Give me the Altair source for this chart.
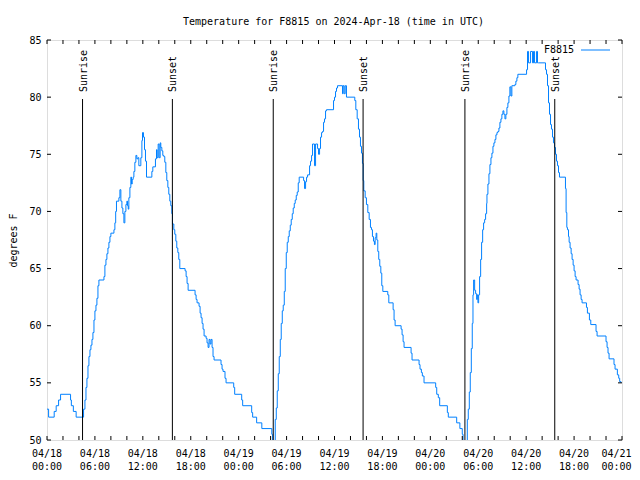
import altair as alt
import pandas as pd

# ---------------- data ----------------
title_text = "Temperature for F8815 on 2024-Apr-18 (time in UTC)"
series_name = "F8815"
y_title = "degrees F"

# hours since 2024-04-18 00:00 UTC
hours = [
    0.00, 0.20, 0.90, 1.15, 1.45, 1.70, 2.95, 3.05, 3.30, 3.65,
    4.58, 4.75, 4.88, 5.00, 5.13, 5.25, 5.38, 5.50, 5.63, 5.75, 5.88, 6.00, 6.13, 6.25, 6.38, 6.50,
    7.13, 7.25, 7.38, 7.50, 7.63, 7.75, 7.88, 8.00, 8.38, 8.50, 8.60, 8.70,
    9.00, 9.13, 9.25, 9.38, 9.50, 9.63, 9.75, 9.88, 10.00, 10.08, 10.17, 10.25, 10.38, 10.50,
    10.58, 10.67, 10.79, 10.88, 11.00, 11.13, 11.25, 11.38, 11.50, 11.75, 11.88, 11.96,
    12.08, 12.21, 12.33, 12.46, 13.13, 13.25, 13.58, 13.71, 13.79, 13.92, 14.04, 14.17,
    14.25, 14.38, 14.50, 14.63, 14.75, 14.88, 15.00, 15.13, 15.25, 15.38, 15.50, 15.63, 15.71,
    15.88, 16.00, 16.13, 16.25, 16.38, 16.50, 16.63, 17.29, 17.42, 17.54, 17.67,
    18.54, 18.67, 18.79, 19.04, 19.17, 19.29, 19.42, 19.54, 19.67, 19.92, 20.04, 20.17,
    20.29, 20.42, 20.54, 20.67, 20.79, 20.92, 21.79, 21.92, 22.04, 22.29, 22.42,
    23.38, 23.50, 24.38, 24.50, 25.63, 25.75, 26.25, 26.90, 28.15, 28.25, 28.40,
    28.58, 28.71, 28.83, 28.96, 29.08, 29.21, 29.33, 29.46, 29.58, 29.71, 29.83, 29.96,
    30.08, 30.21, 30.33, 30.46, 30.58, 30.71, 30.83, 30.96, 31.08, 31.21, 31.33, 31.46, 31.58,
    32.13, 32.25, 32.38, 32.50, 32.63, 32.88, 33.00, 33.13, 33.25, 33.50, 33.63, 33.88,
    34.00, 34.13, 34.25, 34.38, 34.50, 34.63, 34.75, 34.88, 35.00, 35.88, 36.00, 36.13,
    36.25, 36.38, 37.00, 37.08, 37.21, 37.34, 37.50, 38.54, 38.67, 38.84, 39.00, 39.13,
    39.25, 39.38, 39.50, 39.59, 39.67, 39.84, 40.00, 40.17, 40.34, 40.50, 40.63, 40.75,
    40.88, 41.00, 41.09, 41.21, 41.30, 41.42, 41.54, 41.67, 41.80, 41.92, 42.05, 42.67,
    42.80, 43.34, 43.46, 43.59, 44.34, 44.46, 44.59, 44.71, 45.59, 45.71, 46.59, 46.71,
    46.88, 47.00, 47.21, 48.67, 48.80, 49.00, 49.17, 50.13, 50.25, 51.30, 51.70, 52.00,
    52.10, 52.30, 52.63, 52.75, 52.88, 53.00, 53.13, 53.25, 53.34, 53.42, 53.55, 53.67,
    53.80, 53.88, 53.96, 54.05, 54.17, 54.30, 54.42, 54.55, 54.67, 54.80, 54.92, 55.05,
    55.09, 55.21, 55.34, 55.46, 55.59, 55.71, 55.84, 55.96, 56.09, 56.21, 56.34, 56.46,
    56.59, 56.71, 56.84, 56.96, 57.09, 57.21, 57.34, 57.46, 57.59, 57.71, 57.84, 57.96,
    58.09, 58.21, 58.59, 58.71, 58.84, 58.96, 60.05, 60.17, 60.30, 60.55, 60.80, 60.92,
    61.05, 61.30, 61.42, 61.55, 62.42, 62.55, 62.67, 62.80, 62.92,
    63.05, 63.17, 63.30, 63.42, 63.55, 63.67, 63.80, 63.92, 64.05, 64.17, 64.92, 65.00,
    65.09, 65.17, 65.30, 65.38, 65.50, 65.63, 65.75, 65.88, 66.00, 66.13, 66.25, 66.50,
    66.63, 66.75, 66.88, 67.00, 67.55, 67.67, 67.92, 68.09, 68.75, 68.88, 70.00, 70.13,
    70.25, 70.38, 71.00, 71.13, 71.42, 71.59, 71.71, 71.88,
]
temps = [
    52.7, 52.0, 52.5, 53.0, 53.5, 54.0, 53.5, 53.0, 52.5, 52.0,
    52.7, 53.5, 54.6, 55.4, 56.5, 57.3, 57.9, 58.3, 58.8, 59.4, 60.5, 61.3, 61.8, 62.4, 63.5, 64.0,
    64.3, 65.3, 65.8, 66.3, 66.8, 67.3, 67.8, 68.1, 68.4, 69.0, 70.0, 70.9,
    71.2, 71.9, 70.9, 70.3, 69.8, 69.0, 70.0, 70.6, 70.9, 70.5, 70.2, 71.2, 72.1, 73.0,
    72.4, 72.8, 73.0, 73.5, 74.3, 74.9, 74.6, 74.7, 74.0, 74.7, 76.2, 76.9,
    76.5, 75.4, 74.4, 73.0, 73.5, 73.9, 74.6, 75.4, 74.7, 75.9, 74.7, 76.0,
    75.6, 75.3, 74.9, 74.8, 74.3, 73.4, 72.7, 72.1, 71.5, 70.9, 70.5, 69.8, 68.9,
    68.4, 68.0, 67.4, 66.8, 66.4, 65.8, 65.0, 64.8, 64.3, 63.7, 63.1,
    62.7, 62.3, 62.0, 61.7, 61.1, 60.7, 60.2, 59.7, 59.1, 58.9, 58.5, 58.1,
    58.8, 58.4, 58.8, 58.1, 57.3, 57.0, 56.6, 56.2, 56.0, 55.4, 55.0,
    54.6, 54.0, 53.5, 53.0, 52.4, 52.0, 51.5, 51.0, 50.5, 49.5, 49.0,
    51.8, 52.8, 54.3, 55.8, 57.3, 58.8, 60.2, 61.3, 61.8, 63.0, 65.0, 66.4,
    67.3, 67.8, 68.3, 68.8, 69.3, 69.8, 70.3, 70.7, 71.0, 71.4, 71.7, 72.5, 73.0,
    72.7, 72.0, 72.6, 73.0, 73.2, 74.0, 74.4, 74.9, 75.9, 74.0, 75.9, 75.5,
    75.0, 75.5, 76.5, 76.9, 77.0, 77.8, 78.1, 78.8, 78.9, 79.7, 80.0, 80.5,
    80.8, 81.0, 80.3, 81.0, 80.3, 81.0, 80.0, 79.7, 78.9, 78.1, 77.2, 76.5,
    75.7, 75.1, 74.2, 72.7, 71.8, 71.2, 70.6, 69.9, 69.3, 68.6, 68.4, 67.8,
    67.4, 67.1, 67.7, 68.1, 67.5, 66.5, 65.8, 65.2, 64.6, 63.5, 63.0, 62.7,
    62.0, 61.4, 60.5, 60.0, 59.7, 59.2, 58.6, 58.1, 57.6, 57.0, 56.6, 56.2,
    55.9, 55.6, 55.0, 54.6, 54.0, 53.7, 53.0, 52.4, 52.0, 51.5, 51.0, 50.5,
    49.5, 49.0, 51.8, 52.7, 54.2, 55.9, 58.0, 60.2, 62.7, 64.0, 63.1, 62.8,
    62.3, 62.7, 62.0, 62.7, 64.3, 65.8, 67.3, 68.4, 69.0, 69.3, 69.8, 70.7,
    71.5, 72.4, 73.3, 74.1, 74.7, 75.1, 75.7, 76.0, 76.3, 76.7, 76.9, 77.0,
    77.3, 77.8, 78.1, 78.5, 78.8, 78.5, 78.1, 78.5, 79.1, 79.5, 80.1, 80.9,
    80.1, 81.0, 81.1, 81.4, 81.7, 82.0, 82.4, 84.0, 83.0, 84.0, 83.0, 84.0,
    83.0, 84.0, 83.0, 83.0, 82.4, 82.0, 81.0, 79.5, 78.5,
    77.6, 77.2, 76.5, 76.0, 75.6, 75.0, 74.4, 74.0, 73.4, 73.0, 72.0, 69.9,
    68.6, 68.4, 67.8, 67.3, 66.8, 66.3, 65.8, 65.3, 64.8, 64.3, 64.0, 63.6,
    63.2, 62.7, 62.3, 62.0, 61.6, 61.1, 60.5, 60.1, 59.5, 59.1, 58.6, 58.1,
    57.6, 57.1, 56.6, 56.2, 55.7, 55.4, 55.1, 55.0,
]

sunrise_hours = [4.45, 28.33, 52.33]
sunset_hours = [15.70, 39.58, 63.58]

y_ticks = [50, 55, 60, 65, 70, 75, 80, 85]
x_label_hours = [0, 6, 12, 18, 24, 30, 36, 42, 48, 54, 60, 66, 72]
x_label_dates = ["04/18", "04/18", "04/18", "04/18", "04/19", "04/19", "04/19",
                 "04/19", "04/20", "04/20", "04/20", "04/20", "04/21"]
x_label_times = ["00:00", "06:00", "12:00", "18:00", "00:00", "06:00", "12:00",
                 "18:00", "00:00", "06:00", "12:00", "18:00", "00:00"]
x_tick_hours = [0, 2, 4, 6, 8, 10, 12, 14, 16, 18, 20, 22, 24, 26, 28, 30, 32, 34, 36,
                38, 40, 42, 44, 46, 48, 50, 52, 54, 56, 58, 60, 62, 64, 66, 68, 70, 72]

# ---------------- chart ----------------
W, H = 575, 400
FONT = "DejaVu Sans Mono"
BLUE = "#0080ff"
TICK = 4
ROW1, ROW2 = 416.5, 429.5

df = pd.DataFrame({"h": hours, "T": temps})
sun_df = pd.DataFrame({
    "h": sunrise_hours + sunset_hours,
    "label": ["Sunrise"] * len(sunrise_hours) + ["Sunset"] * len(sunset_hours),
})
xt_df = pd.DataFrame({"h": x_tick_hours})
yt_df = pd.DataFrame({"T": y_ticks})
leg_df = pd.DataFrame({"name": [series_name]})
title_df = pd.DataFrame({"t": [title_text]})
lab_df = pd.DataFrame({"h": x_label_hours, "d": x_label_dates, "t": x_label_times})
lab_main = lab_df.iloc[:-1]
lab_last = lab_df.iloc[-1:]

x_scale = alt.Scale(domain=[0, 72], nice=False, zero=False)
y_scale = alt.Scale(domain=[50, 85], nice=False, zero=False)

line = alt.Chart(df).mark_line(
    color=BLUE, strokeWidth=1, interpolate="step-after", clip=True
).encode(
    x=alt.X("h:Q", scale=x_scale, axis=None),
    y=alt.Y("T:Q", scale=y_scale, axis=alt.Axis(
        values=y_ticks, title=y_title, ticks=False, domain=False, grid=False,
        labelFont=FONT, labelFontSize=10, labelColor="black", labelPadding=6,
        titleFont=FONT, titleFontSize=10, titleFontWeight="normal",
        titleColor="black", titleX=-34, titleY=H / 2, titleAngle=270,
        titleAlign="center", titleBaseline="middle", labelOverlap=False)),
)


def xlabels(data, field, ypos, dx):
    return alt.Chart(data).mark_text(
        align="center", baseline="alphabetic", font=FONT, fontSize=10,
        color="black", dx=dx
    ).encode(x=alt.X("h:Q", scale=x_scale), y=alt.value(ypos), text=f"{field}:N")


lab_layers = [
    xlabels(lab_main, "d", ROW1, 0), xlabels(lab_main, "t", ROW2, 0),
    xlabels(lab_last, "d", ROW1, -5.5), xlabels(lab_last, "t", ROW2, -5.5),
]

sun_rules = alt.Chart(sun_df).mark_rule(color="black", strokeWidth=1).encode(
    x=alt.X("h:Q", scale=x_scale), y=alt.value(59), y2=alt.value(H))
sun_text = alt.Chart(sun_df).mark_text(
    angle=270, align="left", baseline="middle", font=FONT, fontSize=10,
    color="black", dy=1
).encode(x=alt.X("h:Q", scale=x_scale), y=alt.value(52), text="label:N")

tick_bottom = alt.Chart(xt_df).mark_rule(color="black", strokeWidth=1).encode(
    x=alt.X("h:Q", scale=x_scale), y=alt.value(H - TICK), y2=alt.value(H))
tick_top = alt.Chart(xt_df).mark_rule(color="black", strokeWidth=1).encode(
    x=alt.X("h:Q", scale=x_scale), y=alt.value(0), y2=alt.value(TICK))
tick_left = alt.Chart(yt_df).mark_rule(color="black", strokeWidth=1).encode(
    y=alt.Y("T:Q", scale=y_scale), x=alt.value(0), x2=alt.value(TICK))
tick_right = alt.Chart(yt_df).mark_rule(color="black", strokeWidth=1).encode(
    y=alt.Y("T:Q", scale=y_scale), x=alt.value(W - TICK), x2=alt.value(W))

leg_text = alt.Chart(leg_df).mark_text(
    align="right", baseline="middle", font=FONT, fontSize=10, color="black"
).encode(x=alt.value(527), y=alt.value(10), text="name:N")
leg_line = alt.Chart(leg_df).mark_rule(color=BLUE, strokeWidth=1).encode(
    x=alt.value(534), x2=alt.value(563), y=alt.value(10))

title_mark = alt.Chart(title_df).mark_text(
    align="center", baseline="alphabetic", font=FONT, fontSize=10, color="black"
).encode(x=alt.value(W / 2 - 1), y=alt.value(-15), text="t:N")

chart = alt.layer(
    line, sun_rules, sun_text, tick_bottom, tick_top, tick_left, tick_right,
    leg_text, leg_line, title_mark, *lab_layers
).properties(
    width=W, height=H,
    autosize=alt.AutoSizeParams(type="none"),
    padding={"left": 39, "top": 32, "right": 10, "bottom": 30},
).configure_view(
    stroke="black", strokeWidth=1
).configure(background="white")

chart.save("out.html", embed_options={"renderer": "svg", "actions": False})
